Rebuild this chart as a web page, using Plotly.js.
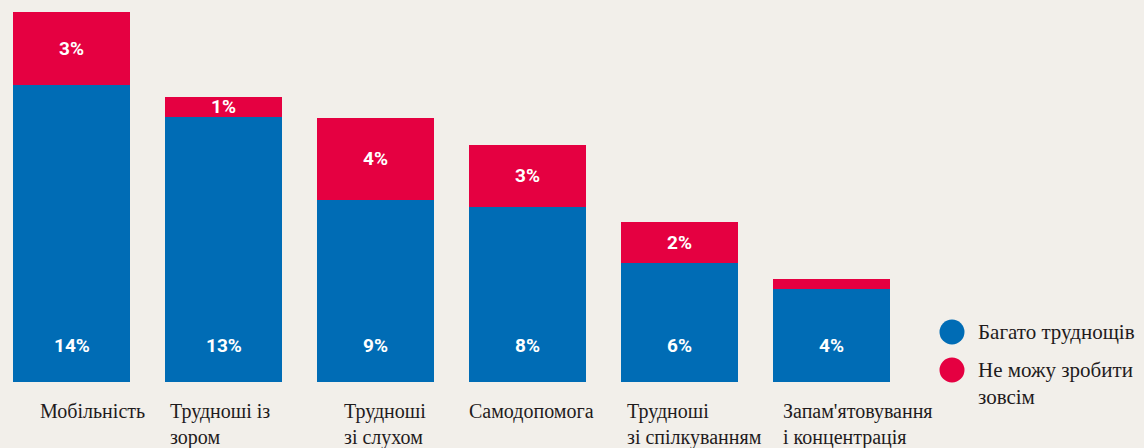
<!DOCTYPE html>
<html>
<head>
<meta charset="utf-8">
<script src="https://cdn.plot.ly/plotly-3.0.1.min.js"></script>
<style>
  html, body { margin: 0; padding: 0; background: #f2efea; }
  #chart { width: 1144px; height: 448px; }
</style>
</head>
<body>
<div id="chart"></div>
<script>
// ---- Data ----
const categories = [
  "Мобільність",
  "Трудноші із<br>зором",
  "Трудноші<br>зі слухом",
  "Самодопомога",
  "Трудноші<br>зі спілкуванням",
  "Запам'ятовування<br>і концентрація"
];
const manyDifficulties = [14.0, 12.5, 8.6, 8.25, 5.6, 4.4];
const cannotAtAll      = [3.45, 0.95, 3.85, 2.95, 1.95, 0.47];
const manyLabels   = ["14%", "13%", "9%", "8%", "6%", "4%"];
const cannotLabels = ["3%", "1%", "4%", "3%", "2%", ""];
const seriesNames = ["Багато труднощів", "Не можу зробити<br>зовсім"];

// ---- Style ----
const BLUE = "#006cb5";
const RED = "#e50041";
const BG = "#f2efea";
const SERIF = "Liberation Serif, DejaVu Serif, serif";
const SANS = "Roboto, Liberation Sans, sans-serif";
const labelShift = [-34, -56, -34, -61, -55, -51]; // px offsets of category labels from bar centre (left anchored)

const idx = categories.map((_, i) => i);

const traces = [
  {
    type: "bar", x: idx, y: manyDifficulties, name: seriesNames[0],
    marker: { color: BLUE }, hoverinfo: "skip", showlegend: false
  },
  {
    type: "bar", x: idx, y: cannotAtAll, name: seriesNames[1],
    marker: { color: RED }, hoverinfo: "skip", showlegend: false,
    text: cannotLabels, textposition: "inside", insidetextanchor: "middle",
    constraintext: "none", textangle: 0,
    textfont: { family: SANS, size: 19, color: "#ffffff", weight: "bold" }
  }
];

const annotations = [];
idx.forEach(i => {
  annotations.push({
    x: i, y: 0, xref: "x", yref: "y", yshift: 37, yanchor: "middle",
    text: manyLabels[i], showarrow: false,
    font: { family: SANS, size: 19, color: "#ffffff", weight: "bold" }
  });
  annotations.push({
    x: i, y: 0, xref: "x", yref: "paper", xanchor: "left", yanchor: "top", align: "left",
    xshift: labelShift[i], yshift: -16,
    text: categories[i], showarrow: false,
    font: { family: SERIF, size: 20, color: "#1f1b1c" }
  });
});

// legend (drawn manually with circles)
const legendX = 952 / 1144;
const legendY = [(382 - 332) / 382, (382 - 370) / 382];
const shapes = [BLUE, RED].map((c, k) => ({
  type: "circle", xref: "paper", yref: "paper",
  xsizemode: "pixel", ysizemode: "pixel",
  xanchor: legendX, yanchor: legendY[k],
  x0: -12.5, x1: 12.5, y0: -12.5, y1: 12.5,
  fillcolor: c, line: { width: 0 }
}));
seriesNames.forEach((n, k) => {
  annotations.push({
    x: legendX, y: legendY[k], xref: "paper", yref: "paper",
    xshift: 24, xanchor: "left", yanchor: k === 0 ? "middle" : "top", yshift: k === 0 ? 0 : 14,
    align: "left", text: n, showarrow: false,
    font: { family: SERIF, size: 21, color: "#1f1b1c" }
  });
});

const layout = {
  width: 1144, height: 448,
  margin: { l: 0, r: 0, t: 0, b: 66, pad: 0 },
  paper_bgcolor: BG, plot_bgcolor: BG,
  barmode: "stack", bargap: 0.23,
  showlegend: false,
  xaxis: {
    type: "linear", range: [-0.4704, 7.0559],
    showgrid: false, zeroline: false, showticklabels: false, ticks: "", showline: false, fixedrange: true
  },
  yaxis: {
    range: [0, 382 / 21.2],
    showgrid: false, zeroline: false, showticklabels: false, ticks: "", showline: false, fixedrange: true
  },
  annotations: annotations,
  shapes: shapes
};

Plotly.newPlot("chart", traces, layout, { staticPlot: true, displayModeBar: false });
</script>
</body>
</html>
